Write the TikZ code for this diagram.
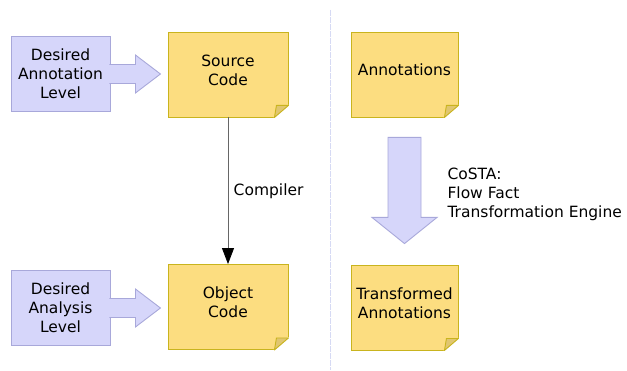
\documentclass[tikz,border=0pt]{standalone}
\usepackage{fontspec}
\setmainfont{DejaVu Sans}
\usetikzlibrary{arrows.meta,calc,positioning}

\definecolor{notefill}{HTML}{FCDD80}
\definecolor{noteedge}{HTML}{C9B41E}
\definecolor{notefold}{HTML}{E0C670}
\definecolor{levelfill}{HTML}{D6D6FA}
\definecolor{leveledge}{HTML}{A8A8DA}
\definecolor{sepline}{HTML}{D6DAF4}

\begin{document}
\begin{tikzpicture}[
    x=1pt, y=1pt,
    every node/.style={font=\fontsize{15.5}{19}\selectfont, align=center},
    note/.style={rectangle, draw=noteedge, fill=notefill, line width=0.9pt,
        inner sep=1pt, text depth=9pt, minimum width=#1, minimum height=85pt},
    cut/.style={fill=white, draw=white, line width=1.4pt, line join=round},
    fold/.style={draw=noteedge, fill=notefold, line width=0.9pt, line join=round},
    levelbox/.style={rectangle, draw=leveledge, fill=levelfill, line width=0.9pt,
        minimum width=99pt, minimum height=75pt, inner sep=1pt},
    fatarrow/.style={draw=leveledge, fill=levelfill, line width=0.9pt},
    arrow/.style={-{Triangle[length=16pt, width=12pt, color=black]}, black!60, line width=0.8pt}
]
\useasboundingbox (0,0) rectangle (627,370);

% Left column: source and object code
\node[note=120pt] (src) at (228,295.5) {Source\\Code};
\node[note=120pt] (obj) at (228,63) {Object\\Code};

\node[levelbox] (annlevel) at (60.5,296) {Desired\\Annotation\\Level};
\node[levelbox] (anllevel) at (60.5,62) {Desired\\Analysis\\Level};

% Fat arrows from the level boxes
\foreach \b in {annlevel,anllevel} {
    \draw[fatarrow] ($(\b.east)+(-1,9.5)$) -- ++(26,0) -- ++(0,9.5)
        -- ++(25,-19) -- ++(-25,-19) -- ++(0,9.5) -- ++(-26,0);
}

% Compiler
\draw[arrow] (src.south) -- node[right, xshift=2pt, text=black] {Compiler} (obj.north);

% Separator
\draw[sepline, line width=1pt, dash pattern=on 6pt off 1pt] (330,360) -- (330,0);

% Right column: annotations
\node[note=107pt] (ann) at (404.5,295.5) {Annotations};
\node[note=107pt] (trans) at (404.5,62.5) {Transformed\\Annotations};

\draw[fatarrow] ($(ann.south)+(-16.5,-20)$) -- ++(0,-80) -- ++(-16,0)
    -- ($(trans.north)+(0,21)$) -- ($(ann.south)+(32.5,-100)$) -- ++(-16,0)
    -- ++(0,80) -- cycle;
\node[anchor=west, align=left] (costa) at (444,176)
    {CoSTA:\\Flow Fact\\Transformation Engine};

% Folded corners
\foreach \n in {src,obj,ann,trans} {
    \fill[cut] (\n.south east) -- ++(0,12) -- ++(-14,-12) -- cycle;
    \draw[fold] ($(\n.south east)+(-12,12)$) -- ++(12,0)
        -- ($(\n.south east)+(-14,0)$) -- cycle;
}

\end{tikzpicture}
\end{document}
